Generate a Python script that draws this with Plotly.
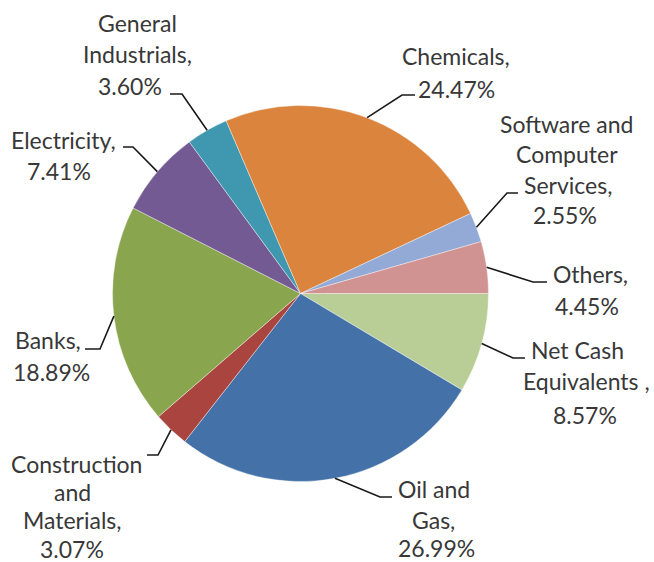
import math
import plotly.graph_objects as go

# ---- data (clockwise from 3 o'clock) ----
categories = ["Net Cash Equivalents ", "Oil and Gas", "Construction and Materials", "Banks",
              "Electricity", "General Industrials", "Chemicals",
              "Software and Computer Services", "Others"]
values = [8.57, 26.99, 3.07, 18.89, 7.41, 3.60, 24.47, 2.55, 4.45]
colors = ["#B9CD96", "#4472A8", "#A9443F", "#89A54E", "#735A93", "#3F98AF",
          "#DB843D", "#93A9D6", "#D09392"]
label_lines = [["Net Cash", "Equivalents ,", "8.57%"],
               ["Oil and", "Gas,", "26.99%"],
               ["Construction", "and", "Materials,", "3.07%"],
               ["Banks,", "18.89%"],
               ["Electricity,", "7.41%"],
               ["General", "Industrials,", "3.60%"],
               ["Chemicals,", "24.47%"],
               ["Software and", "Computer", "Services,", "2.55%"],
               ["Others,", "4.45%"]]

W, H = 654, 562
CX, CY, R = 300.5, 293.5, 188.0
ROT = 90.0

# layout positions (pixels): per-line text centres, and leader-line elbows
line_pos = [[(577, 351), (586, 382), (585, 416)],
            [(434, 490), (433, 521), (436, 549)],
            [(76, 465), (72, 493), (72, 521), (72, 550)],
            [(48, 341), (51, 373)],
            [(63, 141), (59, 172)],
            [(137, 24), (137, 55), (130, 87)],
            [(456, 57), (456, 90)],
            [(566, 125), (567, 155), (568, 186), (565, 216)],
            [(590, 275), (587, 307)]]
elbows = [[(513, 358), (525, 358)], [(380, 497), (392, 497)], [(158, 455), (147, 455)],
          [(100, 349), (85, 349)], [(133, 147), (123, 147)], [(182, 94), (170, 94)],
          [(402, 95), (415, 95)], [(507, 193), (518, 193)], [(533, 282), (547, 282)]]

def px(x, y):
    return x / W, 1 - y / H

fig = go.Figure(go.Pie(
    labels=categories, values=values, sort=False, direction="clockwise",
    rotation=ROT, textinfo="none", hoverinfo="label+percent",
    marker=dict(colors=colors, line=dict(color="white", width=0.4)),
    domain=dict(x=[(CX - R) / W, (CX + R) / W], y=[1 - (CY + R) / H, 1 - (CY - R) / H]),
    showlegend=False,
))

total = sum(values)
cum = 0.0
shapes = []
annotations = []
for i, v in enumerate(values):
    mid = ROT + (cum + v / 2) / total * 360.0
    cum += v
    a = math.radians(mid)
    sx, sy = CX + R * math.sin(a), CY - R * math.cos(a)
    pts = [(sx, sy)] + elbows[i]
    path = "M " + " L ".join("%f,%f" % px(x, y) for x, y in pts)
    shapes.append(dict(type="path", path=path, xref="paper", yref="paper",
                       line=dict(color="#1a1a1a", width=1.6)))
    for txt, (x, y) in zip(label_lines[i], line_pos[i]):
        lx, ly = px(x, y - 1)
        annotations.append(dict(x=lx, y=ly, xref="paper", yref="paper", text=txt,
                                showarrow=False, xanchor="center", yanchor="middle",
                                font=dict(family="Lato", size=23, color="#383838")))

fig.update_layout(width=W, height=H, margin=dict(l=0, r=0, t=0, b=0),
                  paper_bgcolor="white", plot_bgcolor="white",
                  shapes=shapes, annotations=annotations)
fig.write_html("out.html")
